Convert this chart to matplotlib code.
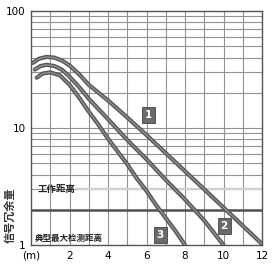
import matplotlib
matplotlib.use("Agg")
import matplotlib.pyplot as plt
from matplotlib.ticker import FixedLocator, NullFormatter, NullLocator

plt.rcParams['font.family'] = ['Noto Sans CJK SC', 'DejaVu Sans']

# --- data ---
x1 = [0.1, 0.4, 0.8, 1.2, 1.6, 2.0, 2.5, 3.0, 4.0, 5.0, 6.0, 7.0, 8.0, 9.0, 10.0, 11.0, 12.0]
y1 = [36, 39, 40.5, 40, 37.8, 34.3, 28.8, 23.4, 17.2, 12.3, 8.7, 6.1, 4.27, 2.99, 2.09, 1.46, 1.02]

x2 = [0.2, 0.5, 0.8, 1.2, 1.6, 2.0, 2.5, 3.0, 4.0, 5.0, 6.0, 7.0, 8.0, 9.0, 10.0]
y2 = [31.6, 33.9, 34.7, 33.9, 31.6, 27.5, 22.4, 17.8, 11.9, 7.9, 5.4, 3.6, 2.45, 1.62, 1.0]

x3 = [0.3, 0.6, 1.0, 1.5, 2.0, 2.5, 3.0, 3.5, 4.0, 4.5, 5.0, 5.5, 6.0, 6.5, 7.0, 7.5, 8.0]
y3 = [26.9, 29.2, 29.9, 28.2, 23.4, 18.2, 13.8, 10.7, 8.1, 6.3, 4.9, 3.7, 2.9, 2.19, 1.7, 1.32, 1.0]

curve_names = ['1', '2', '3']
label_x = [6.09, 10.03, 6.71]
label_y = [13.0, 1.45, 1.22]

x_ticks = [0, 2, 4, 6, 8, 10, 12]
x_tick_labels = ['(m)', '2', '4', '6', '8', '10', '12']
y_ticks = [1, 10, 100]
y_tick_labels = ['1', '10', '100']

work_dist = 3
max_dist = 2
ylabel = '信号冗余量'
work_text = '工作距离'
max_text = '典型最大检测距离'

# --- figure ---
fig = plt.figure(figsize=(2.72, 2.64), dpi=100)
ax = fig.add_axes([31/272, 19/264, 231/272, 234/264])
ax.set_yscale('log')
ax.set_xlim(0, 12)
ax.set_ylim(1, 100)

# grid
minor_y = [m * d for d in (1, 10) for m in range(2, 10)]
for yv in minor_y + [10]:
    ax.axhline(yv, color='#929292', lw=0.8, zorder=1)
for xv in range(1, 12):
    ax.axvline(xv, color='#929292', lw=0.8, zorder=1)

ax.axhline(max_dist, color='#505050', lw=1.8, zorder=2)
ax.plot([2.4, 12], [work_dist, work_dist], color='#cfcfcf', lw=1.6, zorder=2)

for xs, ys in ((x1, y1), (x2, y2), (x3, y3)):
    ax.plot(xs, ys, color='#555555', lw=3.0, solid_capstyle='round',
            solid_joinstyle='round', zorder=4)
    ax.plot(xs, ys, color='#909090', lw=1.0, solid_capstyle='round',
            solid_joinstyle='round', zorder=5)

for name, lx, ly in zip(curve_names, label_x, label_y):
    ax.text(lx, ly, name, ha='center', va='center', fontsize=7.5, color='white',
            family=['DejaVu Sans'], fontweight='bold', zorder=6,
            bbox=dict(boxstyle='square,pad=0.28', fc='#6a6a6a', ec='#444444', lw=0.6))

ax.text(0.35, work_dist, work_text, fontsize=6.8, color='#222222', va='center',
        ha='left', fontweight='bold', zorder=6)
ax.text(0.2, 1.13, max_text, fontsize=6.1, color='#222222', va='center',
        ha='left', fontweight='bold', zorder=6)

ax.xaxis.set_major_locator(FixedLocator(x_ticks))
ax.set_xticklabels(x_tick_labels, family=['DejaVu Sans'], fontsize=7.5)
ax.yaxis.set_major_locator(FixedLocator(y_ticks))
ax.yaxis.set_minor_locator(NullLocator())
ax.yaxis.set_minor_formatter(NullFormatter())
ax.set_yticklabels(y_tick_labels, family=['DejaVu Sans'], fontsize=7.5)
ax.tick_params(length=0, pad=4)

for s in ax.spines.values():
    s.set_color('#555555')
    s.set_linewidth(1.0)

fig.text(10/272, 1 - 215/264, ylabel, rotation=90, ha='center', va='center',
         fontsize=8, fontweight='bold', color='#333333')

fig.savefig('out.png', dpi=100)
